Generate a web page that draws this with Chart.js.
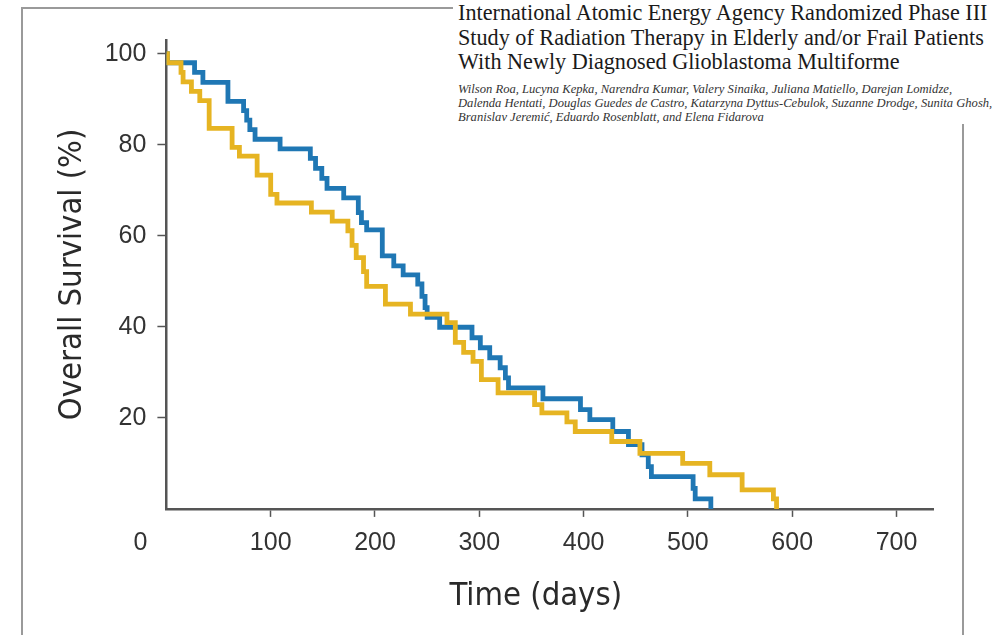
<!DOCTYPE html>
<html>
<head>
<meta charset="utf-8">
<script src="https://cdn.jsdelivr.net/npm/chart.js@4.4.1/dist/chart.umd.min.js"></script>
<style>
  html, body { margin: 0; padding: 0; background: #fff; }
  #wrap { position: relative; width: 1002px; height: 635px; overflow: hidden; }
  #frame { position: absolute; left: 21px; top: 7px; width: 943px; height: 700px; border: 2px solid #9a9a9a; box-sizing: border-box; }
  #chart { position: absolute; left: 0; top: 0; }
  #header { position: absolute; left: 453px; top: 0; width: 549px; height: 124px; background: #fff; }
  #header .t { position: absolute; left: 5px; top: 1px; font: 22.2px/24.5px 'Liberation Serif', 'DejaVu Serif', serif; color: #1a1a1a; white-space: nowrap; }
  #header .a { position: absolute; left: 5px; top: 82px; font: italic 12.6px/14px 'Liberation Serif', 'DejaVu Serif', serif; color: #333; white-space: nowrap; }
</style>
</head>
<body>
<div id="wrap">
  <div id="frame"></div>
  <canvas id="chart" width="1002" height="635"></canvas>
  <div id="header">
    <div class="t">International Atomic Energy Agency Randomized Phase III<br>Study of Radiation Therapy in Elderly and/or Frail Patients<br>With Newly Diagnosed Glioblastoma Multiforme</div>
    <div class="a">Wilson Roa, Lucyna Kepka, Narendra Kumar, Valery Sinaika, Juliana Matiello, Darejan Lomidze,<br>Dalenda Hentati, Douglas Guedes de Castro, Katarzyna Dyttus-Cebulok, Suzanne Drodge, Sunita Ghosh,<br>Branislav Jeremić, Eduardo Rosenblatt, and Elena Fidarova</div>
  </div>
</div>
<script>
// Kaplan-Meier steps: time (days) and survival (%) after each drop
const blueDays = [0, 1, 27, 35, 59, 74, 77, 80, 85, 109, 138, 143, 149, 154, 170, 184, 187, 192, 207, 218, 227, 241, 245, 248, 250, 262, 293, 301, 310, 320, 325, 328, 361, 397, 406, 428, 443, 456, 462, 465, 505, 507, 522];
const blueSurvival = [100, 98, 95.9, 93.7, 89.5, 87.5, 85.4, 83.3, 81.2, 79.1, 77, 74.8, 72.6, 70.4, 68.3, 65.1, 62.9, 61.3, 55.6, 53.4, 51.4, 49.4, 46.7, 44.2, 42.1, 39.9, 37.6, 35.4, 33.2, 31, 28.8, 26.6, 24.2, 21.8, 19.6, 17, 14.1, 11.9, 9.3, 7.1, 4.5, 2.2, 0];

const yellowDays = [0, 1, 14, 16, 24, 32, 41, 63, 70, 87, 100, 106, 139, 159, 174, 178, 182, 189, 192, 210, 234, 269, 277, 285, 294, 302, 318, 353, 360, 384, 392, 427, 454, 495, 521, 552, 582, 585];
const yellowSurvival = [100, 98, 95.9, 93.8, 91.7, 89.7, 83.6, 79.4, 77.5, 73.3, 69.1, 67.2, 65.2, 63.2, 61.1, 57.9, 55.2, 52.1, 48.9, 45, 42.8, 40.9, 36.6, 34.4, 32.4, 28.4, 25.5, 22.9, 21.1, 19.1, 17, 14.8, 12.2, 10, 7.5, 4.2, 2.2, 0];

const xTicks = [0, 100, 200, 300, 400, 500, 600, 700];
const yTicks = [20, 40, 60, 80, 100];

const axisFont = "'DejaVu Sans Condensed', 'Liberation Sans', sans-serif";
const tickFont = "'Liberation Sans', Arial, sans-serif";

function toPoints(days, surv) {
    return days.map((d, i) => ({ x: d, y: surv[i] }));
}

// the "0" of the x axis sits left of the corner, as in the figure
const cornerZero = {
    id: 'cornerZero',
    afterDraw(chart) {
        const ctx = chart.ctx;
        const x = chart.scales.x;
        ctx.save();
        ctx.font = '25px ' + tickFont;
        ctx.fillStyle = '#333';
        ctx.textAlign = 'center';
        ctx.textBaseline = 'middle';
        ctx.fillText(String(xTicks[0]), x.getPixelForValue(xTicks[0]) - 26, x.top + 8 + 11 + 15);
        ctx.restore();
    }
};

const hideZero = (c) => (c.tick && c.tick.value === 0) ? 'rgba(0,0,0,0)' : '#555';

const chartItem = document.getElementById('chart');
const kmChart = new Chart(chartItem, {
    type: 'line',
    data: {
        datasets: [{
            label: 'Arm B',
            data: toPoints(yellowDays, yellowSurvival),
            borderColor: '#e6b422',
            backgroundColor: '#e6b422',
            fill: false
        },
        {
            label: 'Arm A',
            data: toPoints(blueDays, blueSurvival),
            borderColor: '#1f77b4',
            backgroundColor: '#1f77b4',
            fill: false
        }]
    },
    options: {
        responsive: false,
        animation: false,
        layout: {
            padding: { left: 30, right: 69, top: 40, bottom: 0 }
        },
        plugins: {
            legend: { display: false },
            tooltip: { enabled: false }
        },
        elements: {
            line: {
                borderWidth: 4.8,
                stepped: 'before',
                borderJoinStyle: 'miter',
                borderCapStyle: 'butt'
            },
            point: { radius: 0 }
        },
        scales: {
            x: {
                type: 'linear',
                min: 0,
                max: 735,
                afterFit: (s) => { s.height = 126.1; },
                afterBuildTicks: (s) => { s.ticks = xTicks.map(v => ({ value: v })); },
                border: { display: true, color: '#555', width: 2.5 },
                grid: {
                    drawOnChartArea: false,
                    drawTicks: true,
                    tickLength: 8,
                    tickWidth: 1.5,
                    tickColor: hideZero
                },
                ticks: {
                    autoSkip: false,
                    maxRotation: 0,
                    padding: 11,
                    color: '#333',
                    font: { family: tickFont, size: 25 },
                    callback: (v) => v === 0 ? '' : v
                },
                title: {
                    display: true,
                    // trailing spaces nudge the centred title left, like the figure
                    text: 'Time (days)   ',
                    color: '#2a2a2a',
                    font: { family: axisFont, size: 32.5, lineHeight: 1 },
                    padding: { top: 0, bottom: 22 }
                }
            },
            y: {
                min: 0,
                max: 103,
                afterFit: (s) => { s.width = 136.4; },
                afterBuildTicks: (s) => { s.ticks = yTicks.map(v => ({ value: v })); },
                border: { display: true, color: '#555', width: 2.5 },
                grid: {
                    drawOnChartArea: false,
                    drawTicks: true,
                    tickLength: 9,
                    tickWidth: 1.5,
                    tickColor: '#555'
                },
                ticks: {
                    padding: 11,
                    color: '#333',
                    font: { family: tickFont, size: 25 }
                },
                title: {
                    display: true,
                    text: 'Overall Survival (%)',
                    color: '#2a2a2a',
                    font: { family: axisFont, size: 32.5, lineHeight: 1 },
                    padding: { top: 26, bottom: 0 }
                }
            }
        }
    },
    plugins: [cornerZero]
});
</script>
</body>
</html>
